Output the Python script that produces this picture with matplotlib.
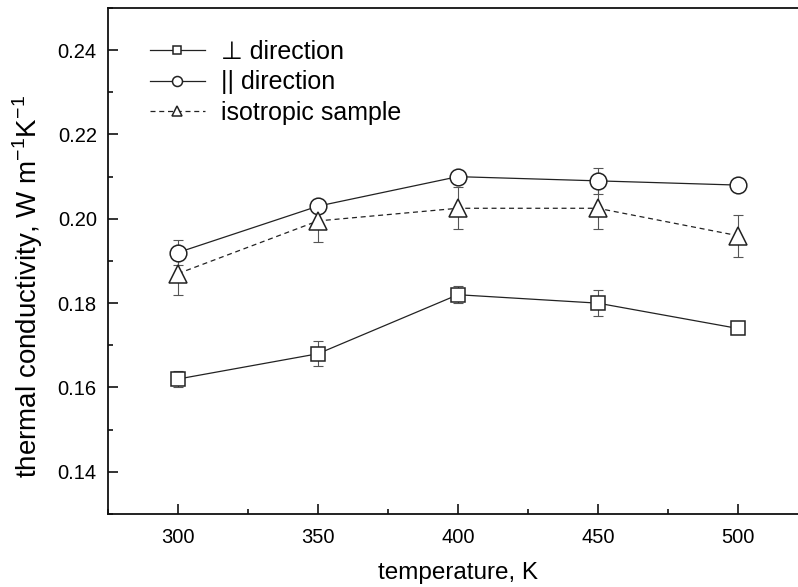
import matplotlib
matplotlib.use("Agg")
import matplotlib.pyplot as plt
from matplotlib.ticker import MultipleLocator, FormatStrFormatter

plt.rcParams['font.family'] = ['Liberation Sans', 'DejaVu Sans']
plt.rcParams['mathtext.fontset'] = 'custom'
plt.rcParams['mathtext.rm'] = 'Liberation Sans'

temperature = [300, 350, 400, 450, 500]

perp = [0.162, 0.168, 0.182, 0.180, 0.174]
perp_err = [0.002, 0.003, 0.002, 0.003, 0.001]

para = [0.192, 0.203, 0.210, 0.209, 0.208]
para_err = [0.003, 0.001, 0.001, 0.003, 0.001]

iso = [0.187, 0.1995, 0.2025, 0.2025, 0.196]
iso_err = [0.005, 0.005, 0.005, 0.005, 0.005]

labels = ['\u22a5 direction', '|| direction', 'isotropic sample']

fig = plt.figure(figsize=(7.98, 5.87), dpi=100)
ax = fig.add_axes([0.1353, 0.1244, 0.877, 0.862])

err_kw = dict(ecolor='#555555', elinewidth=0.8, capsize=3.5, capthick=0.8)
line_kw = dict(color='#222222', linewidth=0.9, markerfacecolor='white',
               markeredgecolor='#222222', markeredgewidth=1.1)

ax.errorbar(temperature, perp, yerr=perp_err, fmt='none', zorder=1, **err_kw)
ax.errorbar(temperature, para, yerr=para_err, fmt='none', zorder=1, **err_kw)
ax.errorbar(temperature, iso, yerr=iso_err, fmt='none', zorder=1, **err_kw)

ax.plot(temperature, perp, marker='s', markersize=10.5, linestyle='-',
        label=labels[0], zorder=3, **line_kw)
ax.plot(temperature, para, marker='o', markersize=12, linestyle='-',
        label=labels[1], zorder=3, **line_kw)
ax.plot(temperature, iso, marker='^', markersize=13, linestyle=(0, (4, 3)),
        label=labels[2], zorder=3, **line_kw)

ax.set_xlim(275, 525)
ax.set_ylim(0.13, 0.25)

ax.xaxis.set_major_locator(MultipleLocator(50))
ax.xaxis.set_minor_locator(MultipleLocator(25))
ax.yaxis.set_major_locator(MultipleLocator(0.02))
ax.yaxis.set_minor_locator(MultipleLocator(0.01))
ax.yaxis.set_major_formatter(FormatStrFormatter('%.2f'))

ax.tick_params(which='both', direction='in', top=False, right=False,
               labelsize=14.5, color='#111111', width=1.2)
ax.tick_params(which='major', length=7)
ax.tick_params(which='minor', length=3.5)
ax.tick_params(axis='y', pad=8)
ax.tick_params(axis='x', pad=10)

for side in ['left', 'bottom', 'top', 'right']:
    ax.spines[side].set_linewidth(1.3)
    ax.spines[side].set_color('#111111')

ax.set_xlabel('temperature, K', fontsize=17.5)
ax.xaxis.set_label_coords(0.5, -0.095)
ax.set_ylabel('thermal conductivity, W m$^{-1}$K$^{-1}$', fontsize=20)
ax.yaxis.set_label_coords(-0.09, 0.45)

ax.legend(loc='upper left', bbox_to_anchor=(0.06, 0.937), frameon=False,
          borderaxespad=0, borderpad=0,
          fontsize=18, markerscale=0.6, handlelength=2.2, handletextpad=0.65,
          labelspacing=0.26)

fig.savefig('out.png', dpi=100)
